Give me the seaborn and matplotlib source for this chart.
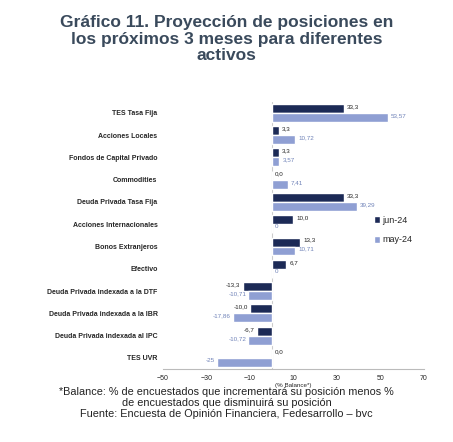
import pandas as pd
import matplotlib.pyplot as plt
import seaborn as sns

# -------------------------------
# Data
# -------------------------------
activos = ['TES Tasa Fija', 'Acciones Locales', 'Fondos de Capital Privado', 'Commodities',
           'Deuda Privada Tasa Fija', 'Acciones Internacionales', 'Bonos Extranjeros', 'Efectivo',
           'Deuda Privada indexada a la DTF', 'Deuda Privada indexada a la IBR',
           'Deuda Privada indexada al IPC', 'TES UVR']
jun_24 = [33.3, 3.3, 3.3, 0.0, 33.3, 10.0, 13.3, 6.7, -13.3, -10.0, -6.7, 0.0]
may_24 = [53.57, 10.72, 3.57, 7.41, 39.29, 0, 10.71, 0, -10.71, -17.86, -10.72, -25]
jun_labels = ['33,3', '3,3', '3,3', '0,0', '33,3', '10,0', '13,3', '6,7', '-13,3', '-10,0', '-6,7', '0,0']
may_labels = ['53,57', '10,72', '3,57', '7,41', '39,29', '0', '10,71', '0', '-10,71', '-17,86', '-10,72', '-25']

DARK = '#1c2a56'
LIGHT = '#8f9fd3'

df = pd.DataFrame({
    'activo': activos * 2,
    'valor': jun_24 + may_24,
    'serie': ['jun-24'] * len(activos) + ['may-24'] * len(activos),
})

sns.set_style('white')
plt.rcParams['font.family'] = ['Liberation Sans', 'DejaVu Sans']

fig = plt.figure(figsize=(4.53, 4.42), dpi=100)
ax = fig.add_axes([0.36, 0.165, 0.575, 0.605])

sns.barplot(data=df, x='valor', y='activo', hue='serie', orient='h',
            palette={'jun-24': DARK, 'may-24': LIGHT}, width=0.8, gap=0,
            saturation=1, ax=ax)

# value labels
for cont, labels, col in [(ax.containers[0], jun_labels, '#222222'), (ax.containers[1], may_labels, '#6f82b8')]:
    for bar, lab in zip(cont, labels):
        w = bar.get_width()
        y = bar.get_y() + bar.get_height() / 2
        if w < 0:
            ax.text(w - 1, y - 0.08, lab, ha='right', va='center', fontsize=4.5, color=col)
        else:
            ax.text(w + 1.5, y - 0.08, lab, ha='left', va='center', fontsize=4.5, color=col)

ax.set_xlim(-50, 70)
ax.set_xticks([-50, -30, -10, 10, 30, 50, 70])
ax.tick_params(axis='x', labelsize=5, length=0, pad=4)
ax.tick_params(axis='y', labelsize=5, length=0, pad=4)
for lab in ax.get_yticklabels():
    lab.set_fontweight('bold')
ax.set_ylabel('')
ax.set_xlabel('(% Balance*)', fontsize=4.5, labelpad=1)
for s in ['top', 'right', 'left']:
    ax.spines[s].set_visible(False)
ax.spines['bottom'].set_color('#bbbbbb')
ax.axvline(0, color='#cccccc', lw=0.8, zorder=0)

ax.legend(loc='center left', bbox_to_anchor=(0.78, 0.52), frameon=False, fontsize=6.5,
          handlelength=0.6, handleheight=0.9, handletextpad=0.3, labelspacing=1.2)

fig.text(0.5, 0.965, 'Gráfico 11. Proyección de posiciones en\nlos próximos 3 meses para diferentes\nactivos',
         ha='center', va='top', fontsize=12.5, fontweight='bold', color='#3a4a5c', linespacing=1.1)
fig.text(0.5, 0.125, '*Balance: % de encuestados que incrementará su posición menos %\n'
         'de encuestados que disminuirá su posición\n'
         'Fuente: Encuesta de Opinión Financiera, Fedesarrollo – bvc',
         ha='center', va='top', fontsize=7.8, color='#222222', linespacing=1.15)

fig.savefig('out.png', dpi=100)
